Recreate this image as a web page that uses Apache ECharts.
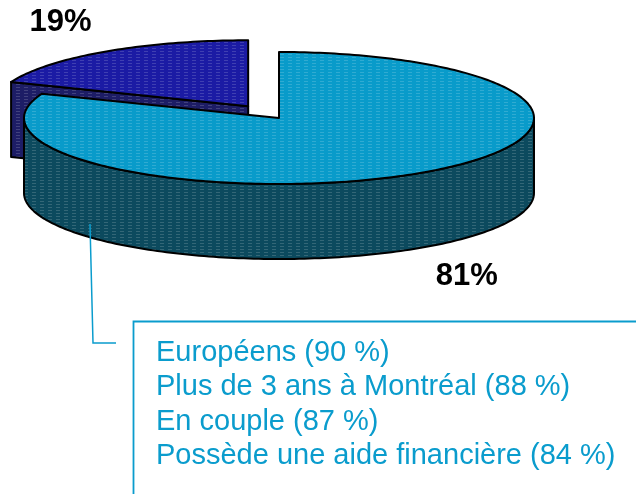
<!DOCTYPE html>
<html>
<head>
<meta charset="utf-8">
<script src="https://cdn.jsdelivr.net/npm/echarts@6/dist/echarts.min.js"></script>
<style>
html, body { margin: 0; padding: 0; background: #fff; }
#main { width: 636px; height: 494px; }
</style>
</head>
<body>
<div id="main"></div>
<script>
// slices, clockwise from 12 o'clock
var shares = [81, 19];
var shareLabels = ['81%', '19%'];
var topColors = ['#099bca', '#1b1ba4'];
var sideColors = ['#0c4a5e', '#1d1d66'];

var profileLines = [
    'Européens (90 %)',
    'Plus de 3 ans à Montréal (88 %)',
    'En couple (87 %)',
    'Possède une aide financière (84 %)'
];

// 3d pie layout
var cx = 279, cy = 118, rx = 255, ry = 66, depth = 75;
var explodeIndex = 1, explodeDist = 0.215;
var blue = '#0a9ccd';
var font = '"Liberation Sans", Arial, sans-serif';

function pt(ox, oy, t, dy){
    return [ox + rx * Math.sin(t), oy - ry * Math.cos(t) + (dy || 0)];
}

function arc(ox, oy, a, b, dy){
    var pts = [];
    var n = Math.max(2, Math.ceil(Math.abs(b - a) / 0.02));
    for (var i = 0; i <= n; i++) {
        pts.push(pt(ox, oy, a + (b - a) * i / n, dy));
    }
    return pts;
}

function hatch(color){
    var c = document.createElement('canvas');
    c.width = 8;
    c.height = 3;
    var ctx = c.getContext('2d');
    ctx.fillStyle = color;
    ctx.fillRect(0, 0, 8, 3);
    ctx.fillStyle = 'rgba(255,255,255,0.16)';
    ctx.fillRect(0, 0, 4, 1);
    return {image: c, repeat: 'repeat'};
}

function renderSlice(params, api){
    var i = params.dataIndex;
    var total = shares.reduce(function(s, v){ return s + v; }, 0);
    var before = 0;
    for (var k = 0; k < i; k++) before += shares[k];
    var t0 = before / total * 2 * Math.PI;
    var t1 = (before + api.value(0)) / total * 2 * Math.PI;
    var tm = (t0 + t1) / 2;

    var ox = cx, oy = cy;
    if (i === explodeIndex) {
        ox += Math.sin(tm) * rx * explodeDist;
        oy -= Math.cos(tm) * ry * explodeDist;
    }
    // slices nearer the viewer are painted later
    var base = Math.round((1 - Math.cos(tm)) * 10) * 10;
    var side = hatch(sideColors[i]);
    var top = hatch(topColors[i]);
    var children = [];

    function face(points, fill, z){
        children.push({
            type: 'polygon',
            shape: {points: points},
            style: {fill: fill, stroke: '#000', lineWidth: 2, lineJoin: 'round'},
            z2: base + z
        });
    }

    if (Math.sin(t0) < -1e-6) {
        face([[ox, oy], pt(ox, oy, t0), pt(ox, oy, t0, depth), [ox, oy + depth]], side, 1);
    }
    if (Math.sin(t1) > 1e-6) {
        face([[ox, oy], pt(ox, oy, t1), pt(ox, oy, t1, depth), [ox, oy + depth]], side, 1);
    }
    var a = Math.max(t0, Math.PI / 2), b = Math.min(t1, Math.PI * 3 / 2);
    if (b > a) {
        face(arc(ox, oy, a, b).concat(arc(ox, oy, b, a, depth)), side, 2);
    }
    face([[ox, oy]].concat(arc(ox, oy, t0, t1)), top, 3);

    var front = Math.cos(tm) < 0;
    children.push({
        type: 'text',
        x: ox + Math.sin(tm) * rx * 1.31,
        y: oy - Math.cos(tm) * ry * 1.53 + (front ? depth : 0),
        style: {
            text: shareLabels[i],
            font: 'bold 31px ' + font,
            fill: '#000',
            align: 'center',
            verticalAlign: 'middle'
        },
        z2: 1000
    });
    return {type: 'group', children: children};
}

var textEls = profileLines.map(function(s, i){
    return {
        type: 'text',
        x: 156,
        y: 353 + i * 34.3,
        style: {text: s, font: '29px ' + font, fill: blue, verticalAlign: 'middle'}
    };
});

var option = {
    animation: false,
    backgroundColor: '#fff',
    series: [{
        type: 'custom',
        coordinateSystem: 'none',
        silent: true,
        renderItem: renderSlice,
        data: shares.map(function(v){ return [v]; })
    }],
    graphic: [{
        type: 'polyline',
        shape: {points: [[90, 224], [93, 343], [116, 343]]},
        style: {stroke: blue, lineWidth: 1.5, fill: null},
        z: 10
    }, {
        type: 'rect',
        shape: {x: 133.5, y: 321.5, width: 540, height: 200},
        style: {stroke: blue, lineWidth: 1.8, fill: null},
        z: 10
    }].concat(textEls)
};

var mychart = echarts.init(document.getElementById('main'), null, {renderer: 'canvas'});
mychart.setOption(option);
</script>
</body>
</html>
